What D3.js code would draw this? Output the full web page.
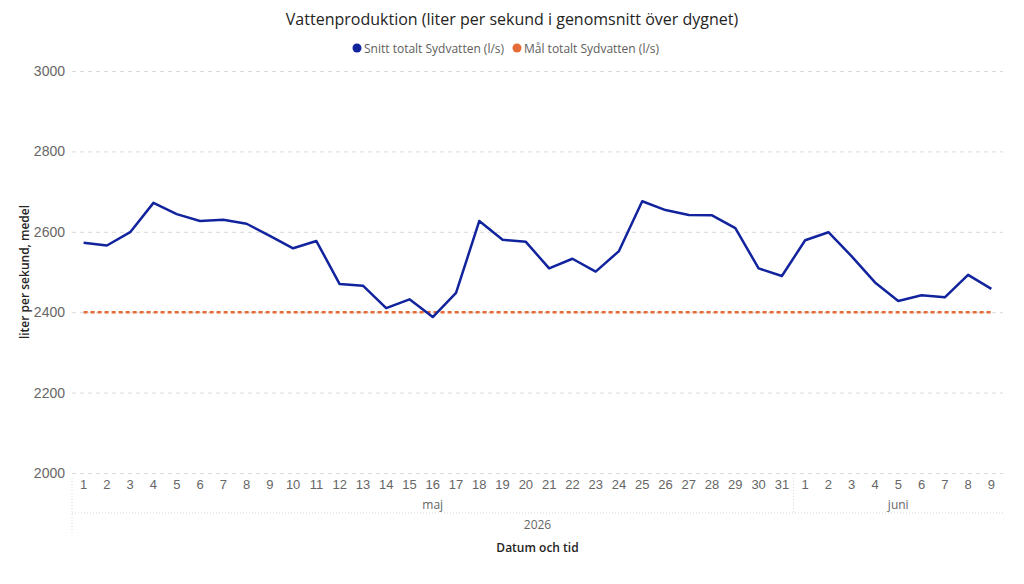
<!DOCTYPE html>
<html>
<head>
<meta charset="utf-8">
<script src="https://cdn.jsdelivr.net/npm/d3@7"></script>
<style>
  body { margin: 0; background: #fff; }
  svg { display: block; font-family: "Open Sans", "Noto Sans", sans-serif; }
</style>
</head>
<body>
<div id="chart"></div>
<script>
// days (category labels) and months
var days = [1,2,3,4,5,6,7,8,9,10,11,12,13,14,15,16,17,18,19,20,21,22,23,24,25,26,27,28,29,30,31,
            1,2,3,4,5,6,7,8,9];
var months = ["maj","maj","maj","maj","maj","maj","maj","maj","maj","maj","maj","maj","maj","maj","maj","maj",
              "maj","maj","maj","maj","maj","maj","maj","maj","maj","maj","maj","maj","maj","maj","maj",
              "juni","juni","juni","juni","juni","juni","juni","juni","juni"];
var year = "2026";
var snitt = [2573,2566,2599,2672,2644,2627,2630,2620,2590,2559,2577,2470,2466,2410,2432,2388,2448,2627,2580,2575,
             2509,2533,2501,2552,2676,2654,2642,2641,2609,2509,2490,
             2579,2599,2539,2474,2428,2442,2437,2493,2458];
var mal = 2400;
var yTicks = [2000,2200,2400,2600,2800,3000];

var W = 1024, H = 584;
var margin = { top: 71, right: 21, bottom: 111, left: 72 };
var width = W - margin.left - margin.right,
    height = H - margin.top - margin.bottom;

var svg = d3.select("#chart").append("svg")
  .attr("width", W).attr("height", H);

var g = svg.append("g")
  .attr("transform", translation(margin.left, margin.top));

var keys = d3.range(days.length);
var x = d3.scaleBand().domain(keys).range([0, width]).padding(0);
var cx = function (i) { return x(i) + x.bandwidth() / 2; };
var y = d3.scaleLinear().domain([2000, 3000]).range([height, 0]);

// title
svg.append("text")
  .attr("x", W / 2).attr("y", 25)
  .attr("text-anchor", "middle")
  .style("font-size", "16px")
  .style("fill", "#252423")
  .text("Vattenproduktion (liter per sekund i genomsnitt över dygnet)");

// legend
var legend = svg.append("g").attr("transform", translation(0, 48));
var legItems = [
  { name: "Snitt totalt Sydvatten (l/s)", color: "#12239E", x: 357 },
  { name: "Mål totalt Sydvatten (l/s)", color: "#E66C37", x: 517 }
];
legItems.forEach(function (d) {
  legend.append("circle").attr("cx", d.x).attr("cy", 0).attr("r", 4.5).attr("fill", d.color);
  legend.append("text").attr("x", d.x + 7).attr("y", 4.5)
    .style("font-size", "12px").style("fill", "#605E5C").text(d.name);
});

// y grid + labels
var yAxis = d3.axisLeft(y).tickValues(yTicks).tickSize(-width).tickPadding(7)
  .tickFormat(d3.format("d"));
var ya = g.append("g").call(yAxis);
ya.select(".domain").remove();
ya.selectAll(".tick line")
  .attr("stroke", "#d9d9d9").attr("stroke-dasharray", "4,4");
ya.selectAll(".tick text")
  .style("font-size", "14px").style("fill", "#666").style("font-family", "inherit");

// y title
svg.append("text")
  .attr("transform", translation(29, margin.top + y(2500)) + " rotate(-90)")
  .attr("text-anchor", "middle")
  .style("font-size", "12px").style("fill", "#252423").style("font-weight", "600")
  .text("liter per sekund, medel");

// x axis day labels
var xAxis = d3.axisBottom(x).tickSize(0).tickPadding(7)
  .tickFormat(function (i) { return days[i]; });
var xa = g.append("g").attr("transform", translation(0, height)).call(xAxis);
xa.select(".domain").remove();
xa.selectAll(".tick text")
  .style("font-size", "13px").style("fill", "#666").style("font-family", "inherit");

// month groups
var monthGroups = d3.groups(keys, function (i) { return months[i]; });
var hier = g.append("g").attr("transform", translation(0, height));
hier.append("line")
  .attr("x1", 0).attr("x2", width).attr("y1", 40).attr("y2", 40)
  .attr("stroke", "#d9d9d9").attr("stroke-dasharray", "1,2");
hier.append("line")
  .attr("x1", 0).attr("x2", 0).attr("y1", 5).attr("y2", 62)
  .attr("stroke", "#d9d9d9").attr("stroke-dasharray", "1,2");
monthGroups.forEach(function (m, k) {
  var first = m[1][0], last = m[1][m[1].length - 1];
  var x0 = x(first), x1 = x(last) + x.bandwidth();
  hier.append("text")
    .attr("x", (x0 + x1) / 2).attr("y", 36)
    .attr("text-anchor", "middle")
    .style("font-size", "12px").style("fill", "#666")
    .text(m[0]);
  if (k > 0) {
    hier.append("line")
      .attr("x1", x0).attr("x2", x0).attr("y1", 5).attr("y2", 40)
      .attr("stroke", "#d9d9d9").attr("stroke-dasharray", "1,2");
  }
});
hier.append("text")
  .attr("x", width / 2).attr("y", 56)
  .attr("text-anchor", "middle")
  .style("font-size", "12px").style("fill", "#666")
  .text(year);

// x title
svg.append("text")
  .attr("x", margin.left + width / 2).attr("y", 552)
  .attr("text-anchor", "middle")
  .style("font-size", "12px").style("fill", "#252423").style("font-weight", "600")
  .text("Datum och tid");

// target line
g.append("line")
  .attr("x1", cx(0)).attr("x2", cx(keys.length - 1))
  .attr("y1", y(mal)).attr("y2", y(mal))
  .attr("stroke", "#E66C37").attr("stroke-width", 2.5)
  .attr("stroke-dasharray", "4,3");

// main line
var line = d3.line()
  .x(function (d, i) { return cx(i); })
  .y(function (d) { return y(d); });
g.append("path")
  .datum(snitt)
  .attr("d", line)
  .attr("fill", "none")
  .attr("stroke", "#12239E")
  .attr("stroke-width", 2.5)
  .attr("stroke-linejoin", "round");

function translation(x, y) {
  return "translate(" + x + "," + y + ")";
}
</script>
</body>
</html>
